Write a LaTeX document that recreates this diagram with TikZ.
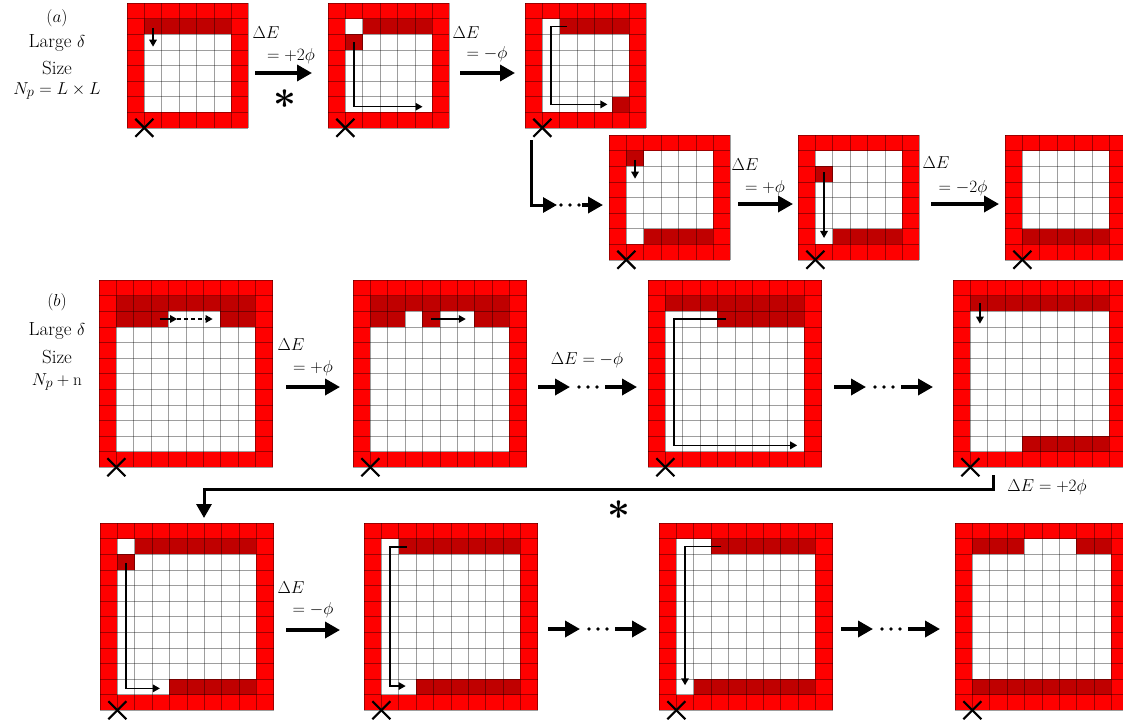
\documentclass[tikz,border=0pt]{standalone}
\usetikzlibrary{arrows.meta}
\definecolor{cellred}{HTML}{FF0000}
\definecolor{celldark}{HTML}{C00000}
\tikzset{
  gridline/.style={draw=black, draw opacity=0.38, line width=0.5pt},
  move/.style={line width=1.5pt, -{Triangle[length=7pt,width=7.5pt]}},
  bigarrow/.style={line width=3.5pt, -{Triangle[length=15pt,width=16pt]}},
  bendarrow/.style={line width=3pt, -{Triangle[length=14pt,width=15pt]}},
  xmark/.style={line width=2.2pt},
  lbl/.style={font=\fontsize{19}{22}\selectfont, inner sep=0pt},
  star/.style={font=\fontsize{24}{24}\selectfont\boldmath, inner sep=0pt},
}
% one occupied cell row segment: column, row, width (in cells)
\newcommand\dk[3]{\fill[celldark] (#1,#2) rectangle ++(#3,1);}
% lattice: top-left x, y (px), columns, rows, dark cells, moves
\newcommand\lattice[6]{%
  \begin{scope}[shift={(#1,#2)},x=17.35pt,y=-15.6pt]
    \fill[cellred] (0,0) rectangle (#3,#4);
    \fill[white] (1,1) rectangle (#3-1,#4-1);
    #5
    \foreach \k in {0,...,#3} \draw[gridline] (\k,0) -- (\k,#4);
    \foreach \k in {0,...,#4} \draw[gridline] (0,\k) -- (#3,\k);
    #6
    \draw[xmark] (1,#4) ++(-9pt,9pt) -- ++(18pt,-18pt);
    \draw[xmark] (1,#4) ++(-9pt,-9pt) -- ++(18pt,18pt);
  \end{scope}}
% arrow, three dots, arrow
\newcommand\skipchain[2]{%
  \draw[bigarrow] (#1,#2) -- (#1+32,#2);
  \fill (#1+41,#2) circle (1.9pt);
  \fill (#1+50,#2) circle (1.9pt);
  \fill (#1+59,#2) circle (1.9pt);
  \draw[bigarrow] (#1+67,#2) -- (#1+99,#2);}

\begin{document}
\begin{tikzpicture}[x=1pt,y=-1pt]
\useasboundingbox (0,0) rectangle (1123,726);
\clip (0,0) rectangle (1123,726);

% ---------------- part (a): 7 x 8 lattices ----------------
\node[lbl] (pa)  at (57,18) {$(a)$};
\node[lbl] (pa1) at (57,43) {Large $\delta$};
\node[lbl] (pa2) at (57,68) {Size};
\node[lbl] (pa3) at (57,91) {$N_p = L \times L$};

\lattice{127}{3}{7}{8}{\dk{1}{1}{5}}{\draw[move] (1.5,1.6) -- (1.5,2.8);}
\lattice{328}{3}{7}{8}{\dk{2}{1}{4}\dk{1}{2}{1}}{\draw[move] (1.5,2.5) -- (1.5,6.65) -- (5.45,6.65);}
\lattice{525}{3}{7}{8}{\dk{2}{1}{4}\dk{5}{6}{1}}{\draw[move] (2.4,1.5) -- (1.5,1.5) -- (1.5,6.5) -- (4.75,6.5);}
\lattice{609}{135}{7}{8}{\dk{1}{1}{1}\dk{2}{6}{4}}{\draw[move] (1.5,1.6) -- (1.5,2.8);}
\lattice{798}{135}{7}{8}{\dk{1}{2}{1}\dk{2}{6}{4}}{\draw[move] (1.5,2.4) -- (1.5,6.6);}
\lattice{1005}{135}{7}{8}{\dk{1}{6}{5}}{}

\coordinate (a1s) at (255,73);  \coordinate (a1e) at (312,73);
\draw[bigarrow] (a1s) -- (a1e);
\node[lbl] (e1a) at (266,33) {$\Delta E$};
\node[lbl] (e1b) at (291,56) {$= +2\phi$};
\node[star] (s1) at (285,99) {\scalebox{1.6}{$\ast$}};

\coordinate (a2s) at (460,73);  \coordinate (a2e) at (515,73);
\draw[bigarrow] (a2s) -- (a2e);
\node[lbl] (e2a) at (466,33) {$\Delta E$};
\node[lbl] (e2b) at (487,54) {$= -\phi$};

\coordinate (a3s) at (531,140); \coordinate (a3c) at (531,205); \coordinate (a3e) at (557,205);
\draw[bendarrow] (a3s) -- (a3c) -- (a3e);
\fill (561,205) circle (1.9pt);
\fill (570,205) circle (1.9pt);
\fill (579,205) circle (1.9pt);
\coordinate (a4s) at (582,205); \coordinate (a4e) at (603,205);
\draw[bigarrow] (a4s) -- (a4e);

\coordinate (a5s) at (738,204); \coordinate (a5e) at (793,204);
\draw[bigarrow] (a5s) -- (a5e);
\node[lbl] (e5a) at (745,165) {$\Delta E$};
\node[lbl] (e5b) at (765,188) {$= +\phi$};

\coordinate (a6s) at (931,204); \coordinate (a6e) at (999,204);
\draw[bigarrow] (a6s) -- (a6e);
\node[lbl] (e6a) at (936,163) {$\Delta E$};
\node[lbl] (e6b) at (963,188) {$= -2\phi$};

% ---------------- part (b): 10 x 12 lattices ----------------
\node[lbl] (pb)  at (57,302) {$(b)$};
\node[lbl] (pb1) at (57,331) {Large $\delta$};
\node[lbl] (pb2) at (57,357) {Size};
\node[lbl] (pb3) at (57,382) {$N_p + \mathrm{n}$};

\lattice{99}{280}{10}{12}{\dk{1}{1}{8}\dk{1}{2}{3}\dk{7}{2}{2}}{%
  \draw[move] (3.5,2.5) -- (4.5,2.5);
  \draw[move,dashed,dash pattern=on 4pt off 3pt] (4.5,2.5) -- (6.55,2.5);}
\lattice{353}{280}{10}{12}{\dk{1}{1}{8}\dk{1}{2}{2}\dk{4}{2}{1}\dk{7}{2}{2}}{%
  \draw[move] (4.5,2.5) -- (6.5,2.5);}
\lattice{648}{280}{10}{12}{\dk{1}{1}{8}\dk{4}{2}{5}}{%
  \draw[move] (4.5,2.5) -- (1.5,2.5) -- (1.5,10.6) -- (8.6,10.6);}
\lattice{953}{280}{10}{12}{\dk{1}{1}{8}\dk{4}{10}{5}}{%
  \draw[move] (1.55,1.5) -- (1.55,2.8);}

\lattice{100}{523}{10}{12}{\dk{2}{1}{7}\dk{1}{2}{1}\dk{4}{10}{5}}{%
  \draw[move] (1.5,2.55) -- (1.5,10.6) -- (3.45,10.6);}
\lattice{364}{523}{10}{12}{\dk{2}{1}{7}\dk{3}{10}{6}}{%
  \draw[move] (2.45,1.55) -- (1.5,1.55) -- (1.5,10.45) -- (2.4,10.45);}
\lattice{659}{523}{10}{12}{\dk{3}{1}{6}\dk{2}{10}{7}}{%
  \draw[move] (3.6,1.5) -- (1.5,1.5) -- (1.5,10.4);}
\lattice{955}{523}{10}{12}{\dk{1}{1}{3}\dk{7}{1}{2}\dk{1}{10}{8}}{}

\coordinate (b1s) at (286,387); \coordinate (b1e) at (340,387);
\draw[bigarrow] (b1s) -- (b1e);
\node[lbl] (f1a) at (291,345) {$\Delta E$};
\node[lbl] (f1b) at (313,368) {$= +\phi$};

\node[lbl] (f2) at (587,360) {$\Delta E = -\phi$};
\skipchain{538}{387}
\skipchain{834}{387}

\coordinate (b4s) at (993,475); \coordinate (b4c) at (993,489);
\coordinate (b5c) at (204,489); \coordinate (b5e) at (204,518);
\draw[bendarrow] (b4s) -- (b4c) -- (b5c) -- (b5e);
\node[lbl] (f4) at (1047,487) {$\Delta E = +2\phi$};
\node[star] (s2) at (619,510) {\scalebox{1.6}{$\ast$}};

\coordinate (b6s) at (286,630); \coordinate (b6e) at (340,630);
\draw[bigarrow] (b6s) -- (b6e);
\node[lbl] (f6a) at (291,588) {$\Delta E$};
\node[lbl] (f6b) at (313,610) {$= -\phi$};

\skipchain{548}{629}
\skipchain{841}{629}
\end{tikzpicture}
\end{document}
